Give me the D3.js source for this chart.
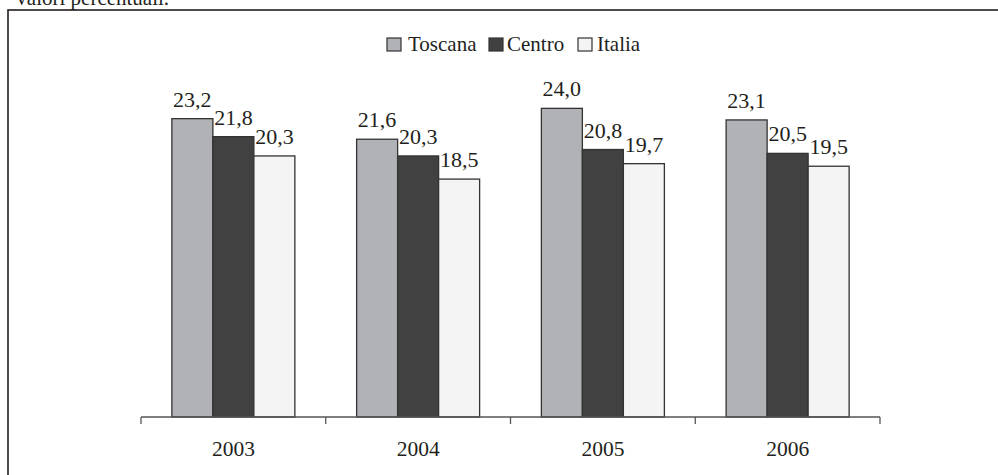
<!DOCTYPE html>
<html>
<head>
<meta charset="utf-8">
<script src="https://cdn.jsdelivr.net/npm/d3@7"></script>
<style>
  html, body { margin: 0; padding: 0; background: #fff; }
  svg { display: block; }
</style>
</head>
<body>
<svg id="chart" width="998" height="475" font-family="'Liberation Serif', 'DejaVu Serif', serif"></svg>
<script>
// Quota percentuale per anno e area territoriale
const years = ["2003", "2004", "2005", "2006"];
const seriesNames = ["Toscana", "Centro", "Italia"];
const toscana = [23.2, 21.6, 24.0, 23.1];
const centro = [21.8, 20.3, 20.8, 20.5];
const italia = [20.3, 18.5, 19.7, 19.5];
const seriesValues = [toscana, centro, italia];
const seriesColors = ["#b0b2b5", "#414141", "#f4f4f4"];
const textColor = "#231f20";

const svg = d3.select("#chart");
const fmt = v => d3.format(".1f")(v).replace(".", ",");

// Titolo superiore (in parte fuori dal riquadro visibile)
svg.append("text")
  .attr("x", 14).attr("y", 5)
  .attr("font-size", 21)
  .attr("fill", textColor)
  .text("Valori percentuali.");

// Cornice del grafico
svg.append("rect")
  .attr("x", 8).attr("y", 10)
  .attr("width", 1000).attr("height", 500)
  .attr("fill", "none")
  .attr("stroke", "#231f20")
  .attr("stroke-width", 1.6);

const baseY = 417;
const x0 = d3.scaleBand().domain(years).range([141, 880]).padding(0);
const x1 = d3.scaleBand().domain(seriesNames).range([0, x0.bandwidth()])
  .paddingInner(0).paddingOuter(0.753);
const y = d3.scaleLinear().domain([0, 25]).range([baseY, 95.5]);

// Barre
const groups = svg.append("g").selectAll("g")
  .data(years)
  .join("g")
  .attr("transform", d => `translate(${x0(d)},0)`);

groups.selectAll("rect")
  .data((d, i) => seriesNames.map((s, k) => ({ s, k, v: seriesValues[k][i] })))
  .join("rect")
  .attr("x", d => x1(d.s))
  .attr("y", d => y(d.v))
  .attr("width", x1.bandwidth())
  .attr("height", d => baseY - y(d.v))
  .attr("fill", d => seriesColors[d.k])
  .attr("stroke", "#333")
  .attr("stroke-width", 1.3);

// Etichette dei valori
groups.selectAll("text.val")
  .data((d, i) => seriesNames.map((s, k) => ({ s, k, v: seriesValues[k][i] })))
  .join("text")
  .attr("class", "val")
  .attr("x", d => x1(d.s) + x1.bandwidth() / 2)
  .attr("y", d => y(d.v) - 12)
  .attr("text-anchor", "middle")
  .attr("font-size", 22)
  .attr("fill", textColor)
  .text(d => fmt(d.v));

// Asse orizzontale con tacche ai bordi delle categorie
const axis = svg.append("g");
axis.append("line")
  .attr("x1", x0.range()[0]).attr("x2", x0.range()[1])
  .attr("y1", baseY).attr("y2", baseY)
  .attr("stroke", "#555").attr("stroke-width", 1.3);
const edges = years.map(d => x0(d)).concat([x0.range()[1]]);
axis.selectAll("line.tick")
  .data(edges)
  .join("line")
  .attr("class", "tick")
  .attr("x1", d => d).attr("x2", d => d)
  .attr("y1", baseY).attr("y2", baseY + 7)
  .attr("stroke", "#555").attr("stroke-width", 1.3);
axis.selectAll("text")
  .data(years)
  .join("text")
  .attr("x", d => x0(d) + x0.bandwidth() / 2)
  .attr("y", 456)
  .attr("text-anchor", "middle")
  .attr("font-size", 21.5)
  .attr("fill", textColor)
  .text(d => d);

// Legenda
const legendItems = [
  { name: "Toscana", sx: 387, tx: 408 },
  { name: "Centro", sx: 489, tx: 507 },
  { name: "Italia", sx: 578, tx: 597 }
];
const legend = svg.append("g");
legend.selectAll("rect")
  .data(legendItems)
  .join("rect")
  .attr("x", d => d.sx).attr("y", 38)
  .attr("width", 14).attr("height", 13)
  .attr("fill", (d, i) => seriesColors[i])
  .attr("stroke", "#333").attr("stroke-width", 1.2);
legend.selectAll("text")
  .data(legendItems)
  .join("text")
  .attr("x", d => d.tx).attr("y", 51)
  .attr("font-size", 21)
  .attr("fill", textColor)
  .text(d => d.name);
</script>
</body>
</html>
